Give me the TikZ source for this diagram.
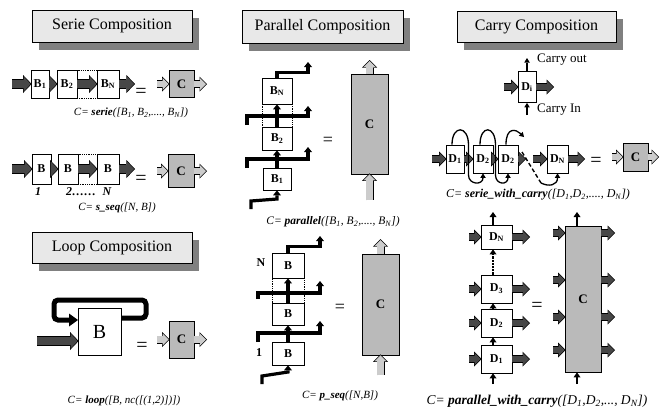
\documentclass[tikz,border=0pt]{standalone}
\usepackage{fontspec}
\setmainfont{Liberation Serif}
\usetikzlibrary{calc}
\usetikzlibrary{arrows.meta}
\usetikzlibrary{shadows}

\begin{document}
\begin{tikzpicture}[x=1pt,y=-1pt,>={Triangle[length=4.5pt,width=5.5pt,line width=0pt]}]
\tikzset{title/.style={draw=black,line width=0.7pt,fill=black!9,inner sep=0pt,font=\fontsize{16}{18}\selectfont,drop shadow={shadow xshift=7pt,shadow yshift=-7.5pt,fill=black!50,opacity=1}}}
\tikzset{blk/.style={draw=black,line width=0.7pt,fill=white,inner sep=0pt,font=\bfseries\fontsize{12}{14}\selectfont}}
\tikzset{dotbox/.style={draw=black,densely dotted,line width=0.8pt,inner sep=0pt}}
\tikzset{cblk/.style={blk,fill=black!27,font=\bfseries\fontsize{13}{15}\selectfont}}
\tikzset{eqs/.style={font=\fontsize{20}{22}\selectfont,inner sep=0pt}}
\tikzset{formula/.style={font=\itshape\fontsize{#1}{14}\selectfont,inner sep=0pt}}
\tikzset{idx/.style={font=\bfseries\itshape\fontsize{12}{14}\selectfont,inner sep=0pt}}
\tikzset{bigdark/.style={line width=8pt,draw=black!72,-{Triangle[length=7pt,width=15pt,line width=0pt]},preaction={draw=black,line width=9.6pt,-{Triangle[length=8.6pt,width=18pt,line width=0pt]},shorten >=-1pt}}}
\tikzset{dark/.style={line width=6.5pt,draw=black!72,-{Triangle[length=6pt,width=12pt,line width=0pt]},preaction={draw=black,line width=8pt,-{Triangle[length=7.5pt,width=15pt,line width=0pt]},shorten >=-1pt}}}
\tikzset{light/.style={dark,draw=black!20}}
\tikzset{bar/.style={line width=3.2pt,-{Triangle[length=5pt,width=8pt,line width=0pt]}}}
\tikzset{vup/.style={line width=2.2pt,-{Triangle[length=5pt,width=7pt,line width=0pt]}}}
\tikzset{carry/.style={line width=1.3pt,->}}
\tikzset{loopline/.style={line width=5pt,rounded corners=4pt,-{Triangle[length=9pt,width=13pt,line width=0pt]}}}

\useasboundingbox[fill=white] (0,0) rectangle (661,408);

% serie composition
\node[title,minimum width=160pt,minimum height=32pt] (tser) at (112,26) {Serie Composition};
\node[blk,minimum width=18pt,minimum height=28pt] (sb1) at (40,84) {B\textsubscript{1}};
\node[blk,minimum width=20pt,minimum height=28pt] (sb2) at (67,84) {B\textsubscript{2}};
\node[dotbox,minimum width=20pt,minimum height=28pt] (sbd) at (87,84) {};
\node[blk,minimum width=22pt,minimum height=28pt] (sbn) at (108,84) {B\textsubscript{N}};
\coordinate (sin) at (12,84);
\coordinate (sout) at (134,84);
\draw[bigdark] (sin) -- (sb1);
\draw[bigdark] (sb1) -- (sb2);
\draw[bigdark] (sb2.east) -- (sbn);
\draw[bigdark] (sbn) -- (sout);
\node[eqs] (seq1) at (141,93) {=};
\node[cblk,minimum width=25pt,minimum height=27pt] (sc) at (181.5,84) {C};
\coordinate (scin) at (157,84);
\coordinate (scout) at (206,84);
\draw[light] (scin) -- (sc);
\draw[light] (sc) -- (scout);
\node[formula=11] (fser) at (131,113) {C= \textbf{serie}([B\textsubscript{1}, B\textsubscript{2},...., B\textsubscript{N}])};

% s_seq
\node[blk,minimum width=19pt,minimum height=30pt] (qb1) at (41.5,169) {B};
\node[blk,minimum width=20pt,minimum height=30pt] (qb2) at (68,169) {B};
\node[dotbox,minimum width=19pt,minimum height=30pt] (qbd) at (87.5,169) {};
\node[blk,minimum width=22pt,minimum height=30pt] (qbn) at (108,169) {B};
\coordinate (qin) at (12,169);
\coordinate (qout) at (134,169);
\draw[bigdark] (qin) -- (qb1);
\draw[bigdark] (qb1) -- (qb2);
\draw[bigdark] (qb2.east) -- (qbn);
\draw[bigdark] (qbn) -- (qout);
\node[idx] (qi1) at (38,192) {1};
\node[idx] (qi2) at (81,192) {2……};
\node[idx] (qin2) at (107,192) {N};
\node[eqs] (qeq) at (141,180) {=};
\node[cblk,minimum width=26pt,minimum height=33pt] (qc) at (181,171) {C};
\coordinate (qcin) at (157,171);
\coordinate (qcout) at (206,171);
\draw[light] (qcin) -- (qc);
\draw[light] (qc) -- (qcout);
\node[formula=11] (fsseq) at (117,208) {C= \textbf{s\_seq}([N, B])};

% loop composition
\node[title,minimum width=160pt,minimum height=31pt] (tloop) at (112,247.5) {Loop Composition};
\node[blk,font=\fontsize{20}{22}\selectfont,minimum width=43pt,minimum height=47pt] (lb) at (99.5,331.5) {B};
\coordinate (lback) at (121,318);
\coordinate (lfeed) at (78,320);
\draw[loopline] (lback) -- (146,318) -- (146,300) -- (54,300) -- (54,320) -- (lfeed);
\coordinate (lin) at (37,341);
\draw[bigdark] (lin) -- (lin -| lb.west);
\node[eqs] (leq) at (142,347) {=};
\node[cblk,minimum width=25pt,minimum height=37pt] (lc) at (181.5,339.5) {C};
\coordinate (lcin) at (157,339.5);
\coordinate (lcout) at (206,339.5);
\draw[light] (lcin) -- (lc);
\draw[light] (lc) -- (lcout);
\node[formula=11] (floop) at (124,401) {C= \textbf{loop}([B, nc([(1,2)])])};

% parallel composition
\node[title,minimum width=161pt,minimum height=33pt] (tpar) at (322.5,26.5) {Parallel Composition};
\node[blk,minimum width=30pt,minimum height=26pt] (pn) at (277,91) {B\textsubscript{N}};
\node[dotbox,minimum width=30pt,minimum height=23pt] (pd) at (277,115.5) {};
\node[blk,minimum width=30pt,minimum height=23pt] (p2) at (277,138.5) {B\textsubscript{2}};
\node[blk,minimum width=28pt,minimum height=22pt] (p1) at (277,179) {B\textsubscript{1}};
\coordinate (pin) at (251,209);
\coordinate (pi1) at (247,168);
\coordinate (pi2) at (247,125);
\coordinate (po1) at (308,147);
\coordinate (po2) at (308,106);
\coordinate (po3) at (308,62);
\draw[bar] (pin) -- ++(0,-8) -- (277,199) -- (p1.south);
\draw[bar] (p1.north) -- (p2.south);
\draw[bar] (pi1) -- ++(0,-9) -| (po1);
\draw[bar] (p2.north) -- (pn.south);
\draw[bar] (pi2) -- ++(0,-9) -| (po2);
\draw[bar] (pn.north) -- ++(0,-5) -| (po3);
\node[eqs,font=\fontsize{18}{20}\selectfont] (peq) at (328,141) {=};
\node[cblk,minimum width=37pt,minimum height=100pt] (pc) at (369.5,124) {C};
\coordinate (pcin) at (369.5,200);
\coordinate (pcout) at (369.5,61);
\draw[light] (pcin) -- (pc);
\draw[light] (pc) -- (pcout);
\node[formula=11.5] (fpar) at (333,222) {C= \textbf{parallel}([B\textsubscript{1}, B\textsubscript{2},...., B\textsubscript{N}])};

% p_seq
\node[blk,minimum width=32pt,minimum height=25pt] (r3) at (288,265.5) {B};
\node[dotbox,minimum width=32pt,minimum height=25pt] (rd) at (288,290.5) {};
\node[blk,minimum width=32pt,minimum height=22pt] (r2) at (288,314) {B};
\node[blk,minimum width=32pt,minimum height=23pt] (r1) at (288,353.5) {B};
\coordinate (rin) at (262,384);
\coordinate (ri1) at (258,342);
\coordinate (ri2) at (258,299);
\coordinate (ro1) at (320,321);
\coordinate (ro2) at (320,281);
\coordinate (ro3) at (320,236);
\draw[bar] (rin) -- ++(0,-8) -- (288,372) -- (r1.south);
\draw[bar] (r1.north) -- (r2.south);
\draw[bar] (ri1) -- ++(0,-9) -| (ro1);
\draw[bar] (r2.north) -- (r3.south);
\draw[bar] (ri2) -- ++(0,-6) -| (ro2);
\draw[bar] (r3.north) -- ++(0,-6) -| (ro3);
\node[idx,font=\bfseries\fontsize{12}{14}\selectfont] (rn) at (261,263) {N};
\node[idx,font=\bfseries\fontsize{12}{14}\selectfont] (r1l) at (259,353) {1};
\node[eqs,font=\fontsize{18}{20}\selectfont] (req) at (340,308) {=};
\node[cblk,minimum width=37pt,minimum height=101pt] (rc) at (380.5,304.5) {C};
\coordinate (rcin) at (380.5,375);
\coordinate (rcout) at (380.5,240);
\draw[light] (rcin) -- (rc);
\draw[light] (rc) -- (rcout);
\node[formula=11] (fpseq) at (340,396) {C= \textbf{p\_seq}([N,B])};

% carry composition
\node[title,minimum width=159pt,minimum height=31pt] (tcar) at (536.5,26.5) {Carry Composition};
\node[blk,minimum width=18pt,minimum height=31pt] (di) at (527,87) {D\textsubscript{i}};
\coordinate (diin) at (504,87);
\coordinate (diout) at (553,87);
\draw[dark] (diin) -- (di);
\draw[dark] (di) -- (diout);
\coordinate (co) at (527,58);
\coordinate (ci) at (527,115);
\draw[carry] (di.north) -- (co);
\draw[carry] (ci) -- (di.south);
\node[anchor=west,font=\fontsize{13}{15}\selectfont,inner sep=0pt] (lco) at (537,60) {Carry out};
\node[anchor=west,font=\fontsize{13}{15}\selectfont,inner sep=0pt] (lci) at (537,110) {Carry In};

% serie with carry
\node[blk,minimum width=18pt,minimum height=28pt] (w1) at (455,159) {D\textsubscript{1}};
\node[blk,minimum width=20pt,minimum height=28pt] (w2) at (483,159) {D\textsubscript{2}};
\node[blk,minimum width=20pt,minimum height=28pt] (w3) at (508,159) {D\textsubscript{2}};
\node[blk,minimum width=21pt,minimum height=28pt] (wn) at (557.5,159) {D\textsubscript{N}};
\coordinate (win) at (432,159);
\coordinate (wstub) at (525,159);
\coordinate (win2) at (533,159);
\coordinate (wout) at (584,159);
\draw[dark] (win) -- (w1);
\draw[dark] (w1) -- (w2);
\draw[dark] (w2) -- (w3);
\draw[dark] (w3) -- (wstub);
\draw[dark] (win2) -- (wn);
\draw[dark] (wn) -- (wout);
\draw[carry] ($(w1.north)+(-3,0)$) .. controls +(0,-20) and +(0,-20) .. (468.5,145) -- (468.5,175) .. controls +(0,10) and +(0,12) .. (w2.south);
\draw[carry] ($(w2.north)+(-3,0)$) .. controls +(0,-20) and +(0,-20) .. (495.5,145) -- (495.5,175) .. controls +(0,10) and +(0,12) .. (w3.south);
\coordinate (k1) at (524,137);
\coordinate (k2) at (522,152);
\coordinate (k3) at (541,183);
\draw[carry] ($(w3.north)+(-2,0)$) .. controls +(0,-18) and +(-8,-8) .. (k1);
\draw[line width=1.4pt,dash pattern=on 4pt off 2.5pt] (k2) -- (k3);
\draw[carry] (k3) .. controls +(8,4) and +(0,12) .. (wn.south);
\node[eqs] (weq) at (596,162) {=};
\node[cblk,minimum width=25pt,minimum height=28pt] (wc) at (635.5,157) {C};
\coordinate (wcin) at (612,157);
\coordinate (wcout) at (658,157);
\draw[light] (wcin) -- (wc);
\draw[light] (wc) -- (wcout);
\node[formula=12] (fswc) at (538,195) {C= \textbf{serie\_with\_carry}([D\textsubscript{1},D\textsubscript{2},...., D\textsubscript{N}])};

% parallel with carry
\node[blk,minimum width=31pt,minimum height=24pt] (en) at (496.5,237) {D\textsubscript{N}};
\node[blk,minimum width=31pt,minimum height=28pt] (e3) at (496.5,289) {D\textsubscript{3}};
\node[blk,minimum width=31pt,minimum height=28pt] (e2) at (496.5,323) {D\textsubscript{2}};
\node[blk,minimum width=31pt,minimum height=28pt] (e1) at (496.5,359) {D\textsubscript{1}};
\foreach \n/\y in {en/237,e3/289,e2/323,e1/359}{
  \draw[dark] (469,\y) -- (\n);
  \draw[dark] (\n) -- (529,\y);
}
\coordinate (ein) at (493,384);
\coordinate (eout) at (493,212);
\draw[vup] (ein) -- ($(e1.south)+(-3.5,0)$);
\draw[vup] ($(e1.north)+(-3.5,0)$) -- ($(e2.south)+(-3.5,0)$);
\draw[vup] ($(e2.north)+(-3.5,0)$) -- ($(e3.south)+(-3.5,0)$);
\draw[vup,densely dotted] ($(e3.north)+(-3.5,0)$) -- ($(en.south)+(-3.5,0)$);
\draw[vup] ($(en.north)+(-3.5,0)$) -- (eout);
\node[eqs] (eeq) at (537,307) {=};
\node[cblk,minimum width=36pt,minimum height=146pt] (ec) at (583,299) {C};
\foreach \y in {233,280,317,350}{
  \draw[dark] (553,\y) -- (ec.west |- 0,\y);
  \draw[dark] (ec.east |- 0,\y) -- (614,\y);
}
\coordinate (ecin) at (577,384);
\coordinate (ecout) at (577,212);
\draw[vup] (ecin) -- ($(ec.south)+(-6,0)$);
\draw[vup] ($(ec.north)+(-6,0)$) -- (ecout);
\node[formula=13.5] (fpwc) at (537,401) {C= \textbf{parallel\_with\_carry}([D\textsubscript{1},D\textsubscript{2},..., D\textsubscript{N}])};

\end{tikzpicture}
\end{document}
